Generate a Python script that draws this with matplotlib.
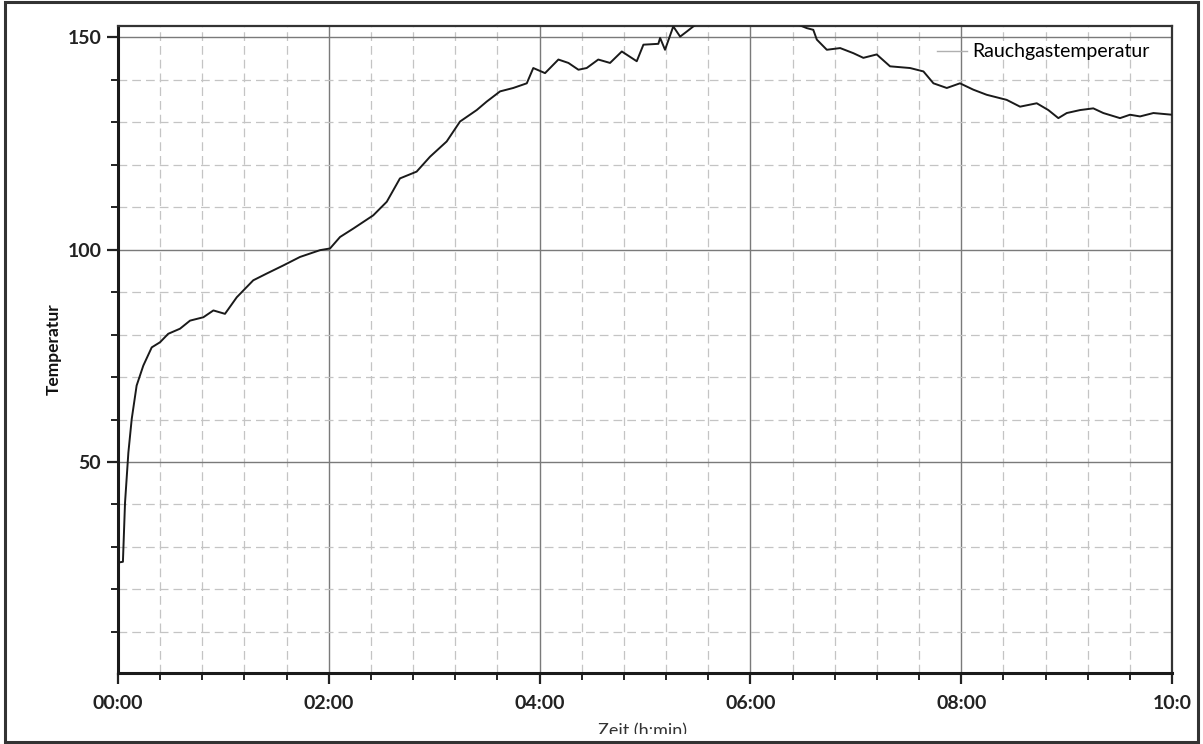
import matplotlib
matplotlib.use("Agg")
import matplotlib.pyplot as plt
from matplotlib.ticker import MultipleLocator, FixedLocator
from matplotlib.patches import Rectangle

# time in minutes since start, temperature values
time_min = [0, 2.8, 4.0, 5.9, 7.8, 10.6, 14.4, 19.2, 23.9, 28.6, 35.3, 41.0, 48.6, 54.3,
            60.9, 67.6, 77.0, 84.7, 94.1, 103.6, 115.0, 120.7, 126.4, 134.0, 145.3, 153.0,
            160.5, 170.0, 177.6, 187.1, 194.7, 204.2, 209.9, 217.5, 225.0, 232.7, 236.4,
            243.1, 250.7, 256.4, 262.1, 266.8, 273.4, 280.1, 286.8, 295.3, 299.1, 307.6,
            308.6, 311.4, 316.1, 320.0, 323.8, 327.5, 337, 354, 371, 385.4, 387.3, 392.1,
            395.8, 397.8, 403.5, 411.1, 418.6, 424.3, 431.9, 439.5, 450.9, 458.5, 464.2,
            471.8, 479.3, 486.9, 494.5, 505.9, 513.5, 523.0, 529.6, 535.3, 540.1, 547.7,
            555.2, 560.9, 570.4, 576.1, 581.8, 589.4, 600]
temperature = [26.3, 26.5, 40.4, 52.2, 60.1, 68.0, 72.7, 77.0, 78.2, 80.2, 81.4, 83.3, 84.1, 85.7,
               84.9, 88.8, 92.8, 94.4, 96.3, 98.3, 99.9, 100.3, 103.0, 105.0, 108.1, 111.3,
               116.8, 118.4, 121.9, 125.5, 130.2, 132.9, 134.9, 137.3, 138.1, 139.2, 142.8,
               141.6, 144.8, 144.0, 142.4, 142.8, 144.8, 144.0, 146.7, 144.4, 148.3, 148.5,
               149.9, 147.1, 152.6, 150.2, 151.4, 152.6, 155.0, 157.0, 156.0, 154.0, 153.0, 152.2,
               151.8, 149.5, 147.1, 147.5, 146.3, 145.2, 146.0, 143.2, 142.8, 142.0, 139.2,
               138.1, 139.2, 137.7, 136.5, 135.3, 133.7, 134.5, 132.9, 131.0, 132.2, 132.9,
               133.3, 132.2, 131.0, 131.8, 131.4, 132.2, 131.8]

series_name = "Rauchgastemperatur"
x_tick_pos = [0, 120, 240, 360, 480, 600]
x_tick_labels = ["00:00", "02:00", "04:00", "06:00", "08:00", "10:0"]
y_tick_pos = [50, 100, 150]
y_tick_labels = ["50", "100", "150"]

plt.rcParams['font.family'] = ['Lato', 'DejaVu Sans']

W, H = 1203, 744
fig = plt.figure(figsize=(W / 100, H / 100), dpi=100)
ax = fig.add_axes([118 / W, 1 - 673 / H, (1172 - 118) / W, (673 - 26) / H])

ax.plot(time_min, temperature, color="#1a1a1a", lw=1.4, label=series_name, zorder=3)

ax.set_xlim(0, 600)
ax.set_ylim(0.3, 152.7)

ax.xaxis.set_major_locator(FixedLocator(x_tick_pos))
ax.set_xticklabels(x_tick_labels, fontweight="bold", fontsize=14, color="#1a1a1a")
ax.xaxis.set_minor_locator(MultipleLocator(24))
ax.yaxis.set_major_locator(FixedLocator(y_tick_pos))
ax.set_yticklabels(y_tick_labels, fontweight="bold", fontsize=14, color="#1a1a1a")
ax.yaxis.set_minor_locator(MultipleLocator(10))

ax.grid(which="major", color="#7a7a7a", lw=1.0, ls="-", zorder=1)
ax.grid(which="minor", color="#c4c4c4", lw=0.9, ls=(0, (7, 4)), zorder=1)
ax.set_axisbelow(True)

ax.tick_params(which="major", direction="out", length=8, width=1.6, colors="#222222")
ax.tick_params(which="minor", direction="out", length=5, width=1.4, colors="#222222")
ax.tick_params(axis="x", pad=8)
ax.tick_params(axis="y", pad=4)

for side in ["left", "bottom"]:
    ax.spines[side].set_linewidth(2.2)
    ax.spines[side].set_color("#1a1a1a")
for side in ["top", "right"]:
    ax.spines[side].set_linewidth(1.6)
    ax.spines[side].set_color("#333333")

ax.set_ylabel("Temperatur", fontsize=12.5, color="#111111", labelpad=4,
              fontweight="bold")

leg = ax.legend(loc="upper left", bbox_to_anchor=(0.77, 0.985), frameon=False,
                fontsize=14, handlelength=1.5, handletextpad=0.3, borderaxespad=0)
for ln in leg.get_lines():
    ln.set_color("#b0b0b0")
    ln.set_linewidth(1.0)

# partially visible x-axis title at the bottom edge
fig.text(642 / W, 1 - 723 / H, "Zeit (h:min)", fontsize=13, color="#333333",
         ha="center", va="top", zorder=1)
fig.patches.append(Rectangle((0, 0), 1, 1 - 734 / H, transform=fig.transFigure,
                             facecolor="white", edgecolor="none", zorder=2))
fig.patches.append(Rectangle((5 / W, 1 - 742 / H), (1198 - 5) / W, (742 - 2) / H,
                             transform=fig.transFigure, facecolor="none",
                             edgecolor="#333333", lw=2.2, zorder=3))

fig.savefig("out.png", dpi=100)
